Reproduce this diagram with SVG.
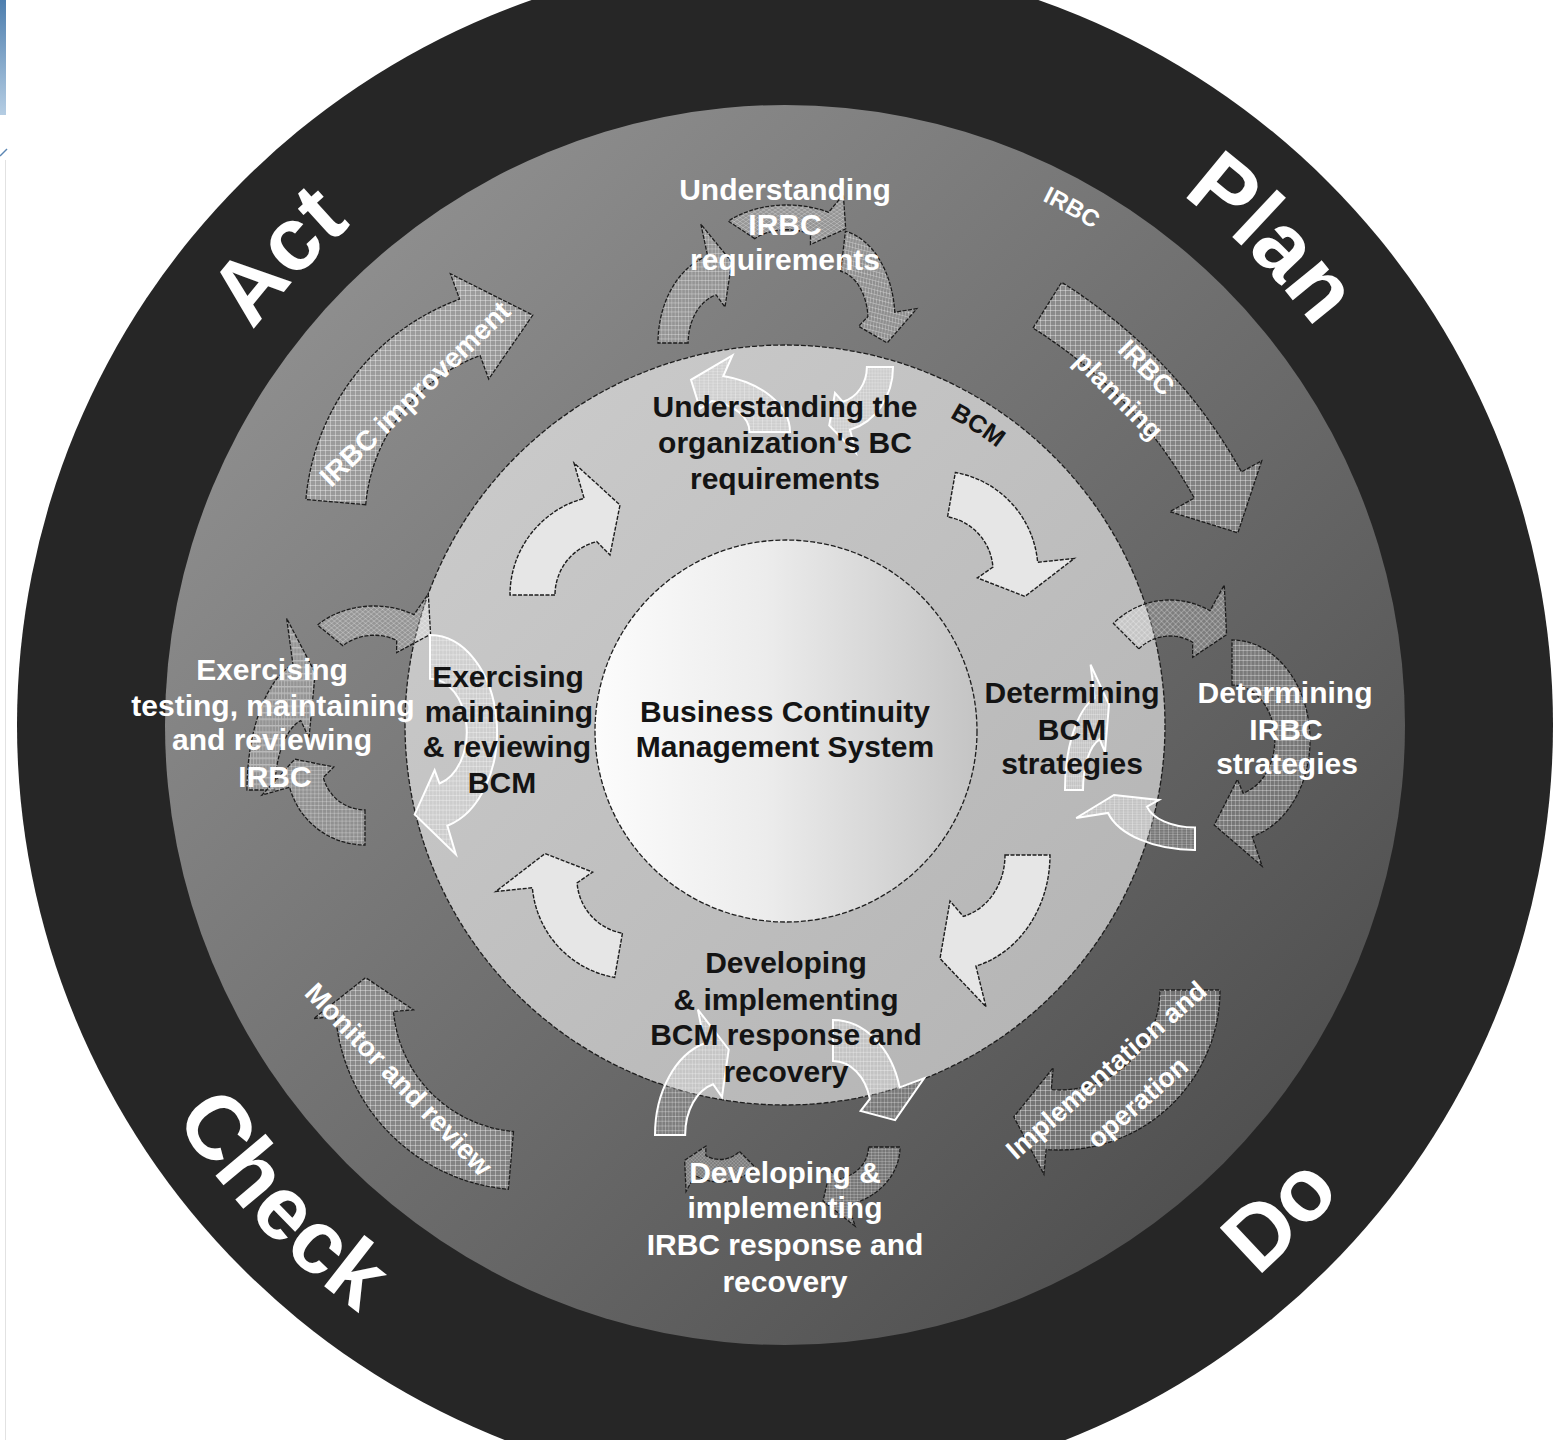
<svg xmlns="http://www.w3.org/2000/svg" xmlns:xlink="http://www.w3.org/1999/xlink" width="1553" height="1440" viewBox="0 0 1553 1440">
<style>
.t{font-family:"Liberation Sans",Arial,sans-serif;font-weight:bold;text-anchor:middle}
.w{fill:#ffffff}
.k{fill:#141414}
.f30{font-size:30px}
.pdca{font-size:90px;fill:#ffffff}
.ah{fill:url(#grid);stroke:#1c1c1c;stroke-width:1.3;stroke-dasharray:4 1.5}
.aw{fill:url(#grid);stroke:#ffffff;stroke-width:2}
.al{fill:#e6e6e6;stroke:#1c1c1c;stroke-width:1.4;stroke-dasharray:4 1.5}
</style>
<defs>
<linearGradient id="gGray" x1="0" y1="0" x2="1" y2="1">
<stop offset="0" stop-color="#9a9a9a"/><stop offset="1" stop-color="#444444"/>
</linearGradient>
<linearGradient id="gBcm" x1="0" y1="0" x2="1" y2="1">
<stop offset="0" stop-color="#cdcdcd"/><stop offset="1" stop-color="#b2b2b2"/>
</linearGradient>
<linearGradient id="gCore" x1="0" y1="0" x2="1" y2="0">
<stop offset="0" stop-color="#fcfcfc"/><stop offset="0.45" stop-color="#ececec"/><stop offset="1" stop-color="#c4c4c4"/>
</linearGradient>
<linearGradient id="gBlue" x1="0" y1="0" x2="0" y2="1">
<stop offset="0" stop-color="#4d7eae"/><stop offset="1" stop-color="#b5cde3"/>
</linearGradient>
<pattern id="grid" patternUnits="userSpaceOnUse" width="5" height="5">
<rect width="5" height="5" fill="#ffffff" fill-opacity="0.16"/>
<path d="M0 0.5H5M0.5 0V5" stroke="#ffffff" stroke-opacity="0.35" stroke-width="1"/>
</pattern>
<path id="C" vector-effect="non-scaling-stroke" d="M -55,0 L -100,0 A 100 100 0 0 1 -25.9,-96.6 L -36,-132 L 10,-90 L 0,-40 L -13.3,-53.4 A 55 55 0 0 0 -55,0 Z"/>
<path id="H" vector-effect="non-scaling-stroke" d="M -55,0 L -100,0 A 100 100 0 0 1 96.6,-25.9 L 126.2,-38.6 L 85,22.8 L 39.4,-6.9 L 53.1,-14.2 A 55 55 0 0 0 -55,0 Z"/>
<path id="tp-act" d="M 123.8,692.7 A 662 662 0 0 1 702.0,68.2"/>
<path id="tp-plan" d="M 842.7,65.5 A 662 662 0 0 1 1444.5,667.3"/>
<path id="tp-check" d="M 60.3,768.1 A 726 726 0 0 0 701.6,1446.2"/>
<path id="tp-do" d="M 852.1,1447.9 A 726 726 0 0 0 1508.6,784.5"/>
<path id="tp-irbc" d="M 673.6,151.7 A 584 584 0 0 1 1330.2,515.7"/>
<path id="tp-bcm" d="M 741.3,378.8 A 349 349 0 0 1 1118.4,621.8"/>
</defs>

<rect width="1553" height="1440" fill="#ffffff"/>
<g id="slide-edge">
<rect x="0" y="0" width="6" height="115" fill="url(#gBlue)"/>
<path d="M0 156 L7 149" stroke="#5b86b3" stroke-width="1.5"/>
<line x1="5.5" y1="160" x2="5.5" y2="1440" stroke="#e2e2e2" stroke-width="1"/>
</g>

<g id="rings">
<circle cx="785" cy="725" r="768" fill="#262626"/>
<circle cx="785" cy="725" r="620" fill="url(#gGray)"/>
<circle cx="785" cy="725" r="380" fill="url(#gBcm)" stroke="#1e1e1e" stroke-width="1.3" stroke-dasharray="5 2"/>
</g>

<g id="connectors">
<!-- big outer IRBC arrows -->
<path class="ah" d="M 365.7,504.7 L 305.9,499.5 A 235 235 0 0 1 459.6,299.2 L 450.4,273.8 L 532.8,315.1 L 488.7,379 L 480.1,355.6 A 175 175 0 0 0 365.7,504.7 Z"/>
<path class="ah" d="M 1033.0,328.1 L 1061.6,282.3 A 522 522 0 0 1 1241.5,471.9 L 1261.7,460.8 L 1237.9,532.8 L 1169.8,511.7 L 1194.3,498.1 A 468 468 0 0 0 1033.0,328.1 Z"/>
<path class="ah" d="M 1160,990 L 1220,990 A 160 160 0 0 1 1046.1,1149.4 L 1043.9,1174.3 L 1013.8,1116.9 L 1053.2,1067.7 L 1051.3,1089.6 A 100 100 0 0 0 1160,990 Z"/>
<path class="ah" d="M 513.5,1131.5 L 508.4,1189.3 A 190 190 0 0 1 335.7,1016.6 L 313.8,1018.5 L 365.6,977.6 L 413.4,1009.8 L 393.5,1011.5 A 132 132 0 0 0 513.5,1131.5 Z"/>
<!-- top cycle -->
<use href="#C" class="ah" transform="translate(725,343) scale(0.67,0.9)"/>
<use href="#C" class="ah" transform="translate(787,260) scale(0.83,0.55) rotate(45)"/>
<use href="#C" class="ah" transform="translate(835,320) scale(0.6,0.9) rotate(100)"/>
<use href="#C" class="aw" transform="translate(700,432) scale(-0.9,0.58)"/>
<use href="#C" class="aw" transform="translate(835,367) scale(0.58,0.65) rotate(180)"/>
<!-- right cycle -->
<use href="#C" class="ah" transform="translate(1170,680) scale(0.8,0.8) rotate(45)"/>
<use href="#H" class="ah" transform="translate(1232,740) scale(0.78,1) rotate(90)"/>
<use href="#C" class="aw" transform="translate(1195,800) scale(0.9,0.5) rotate(270)"/>
<use href="#C" class="aw" transform="translate(1105,790) scale(0.4,0.95)"/>
<!-- left cycle -->
<use href="#C" class="ah" transform="translate(374,671) scale(0.8,0.65) rotate(45)"/>
<use href="#C" class="ah" transform="translate(309,790) scale(0.62,1.3)"/>
<use href="#C" class="ah" transform="translate(365,767) scale(0.78,0.78) rotate(270)"/>
<use href="#H" class="aw" transform="translate(430,732) scale(0.67,0.97) rotate(90)"/>
<!-- bottom cycle -->
<use href="#C" class="aw" transform="translate(722,1135) scale(0.67,0.95)"/>
<use href="#C" class="aw" transform="translate(833,1111) scale(0.69,0.91) rotate(90)"/>
<use href="#C" class="ah" transform="translate(830,1147) scale(0.7,0.6) rotate(180)"/>
<use href="#C" class="ah" transform="translate(720,1132) scale(0.5,0.5) rotate(225)"/>
<!-- inner BCM arrows -->
<use href="#C" class="al" transform="translate(610,595)"/>
<use href="#C" class="al" transform="translate(938,571) rotate(100)"/>
<use href="#C" class="al" transform="translate(950,855) scale(1,1.15) rotate(180)"/>
<use href="#C" class="al" transform="translate(632,879) rotate(280)"/>
</g>

<g id="core">
<circle cx="786" cy="731" r="191" fill="url(#gCore)" stroke="#1e1e1e" stroke-width="1.3" stroke-dasharray="5 2"/>
<text class="t k f30" x="785" y="722">Business Continuity</text>
<text class="t k f30" x="785" y="757">Management System</text>
</g>

<g id="pdca-act"><text class="t pdca"><textPath href="#tp-act" startOffset="50%">Act</textPath></text></g>
<g id="pdca-plan"><text class="t pdca"><textPath href="#tp-plan" startOffset="50%">Plan</textPath></text></g>
<g id="pdca-check"><text class="t pdca"><textPath href="#tp-check" startOffset="50%">Check</textPath></text></g>
<g id="pdca-do"><text class="t pdca"><textPath href="#tp-do" startOffset="50%">Do</textPath></text></g>

<g id="ring-labels">
<text class="t w" font-size="24"><textPath href="#tp-irbc" startOffset="50%">IRBC</textPath></text>
<text class="t k" font-size="25"><textPath href="#tp-bcm" startOffset="50%">BCM</textPath></text>
</g>

<g id="irbc-improvement"><text class="t w" font-size="28" transform="translate(416,395) rotate(-44)" y="8">IRBC improvement</text></g>
<g id="irbc-planning">
<text class="t w" font-size="27" transform="translate(1147,367) rotate(45)" y="10">IRBC</text>
<text class="t w" font-size="27" transform="translate(1117,397) rotate(45)" y="7">planning</text>
</g>
<g id="implementation">
<text class="t w" font-size="27" transform="translate(1107,1071) rotate(-41)" y="8">Implementation and</text>
<text class="t w" font-size="27" transform="translate(1139,1104) rotate(-41)" y="7">operation</text>
</g>
<g id="monitor"><text class="t w" font-size="28" transform="translate(399,1079) rotate(46)" y="10">Monitor and review</text></g>

<g id="understanding-irbc">
<text class="t w f30" x="785" y="200">Understanding</text>
<text class="t w f30" x="785" y="235">IRBC</text>
<text class="t w f30" x="785" y="270">requirements</text>
</g>
<g id="understanding-bc">
<text class="t k f30" x="785" y="417">Understanding the</text>
<text class="t k f30" x="785" y="453">organization's BC</text>
<text class="t k f30" x="785" y="489">requirements</text>
</g>
<g id="exercising-bcm">
<text class="t k f30" x="508" y="687">Exercising</text>
<text class="t k f30" x="509" y="722">maintaining</text>
<text class="t k f30" x="507" y="757">&amp; reviewing</text>
<text class="t k f30" x="502" y="793">BCM</text>
</g>
<g id="exercising-irbc">
<text class="t w f30" x="272" y="680">Exercising</text>
<text class="t w f30" x="273" y="716">testing, maintaining</text>
<text class="t w f30" x="272" y="750">and reviewing</text>
<text class="t w f30" x="275" y="787">IRBC</text>
</g>
<g id="determining-bcm">
<text class="t k f30" x="1072" y="703">Determining</text>
<text class="t k f30" x="1072" y="740">BCM</text>
<text class="t k f30" x="1072" y="774">strategies</text>
</g>
<g id="determining-irbc">
<text class="t w f30" x="1285" y="703">Determining</text>
<text class="t w f30" x="1286" y="740">IRBC</text>
<text class="t w f30" x="1287" y="774">strategies</text>
</g>
<g id="developing-bcm">
<text class="t k f30" x="786" y="973">Developing</text>
<text class="t k f30" x="786" y="1010">&amp; implementing</text>
<text class="t k f30" x="786" y="1045">BCM response and</text>
<text class="t k f30" x="786" y="1082">recovery</text>
</g>
<g id="developing-irbc">
<text class="t w f30" x="785" y="1183">Developing &amp;</text>
<text class="t w f30" x="785" y="1218">implementing</text>
<text class="t w f30" x="785" y="1255">IRBC response and</text>
<text class="t w f30" x="785" y="1292">recovery</text>
</g>
</svg>
